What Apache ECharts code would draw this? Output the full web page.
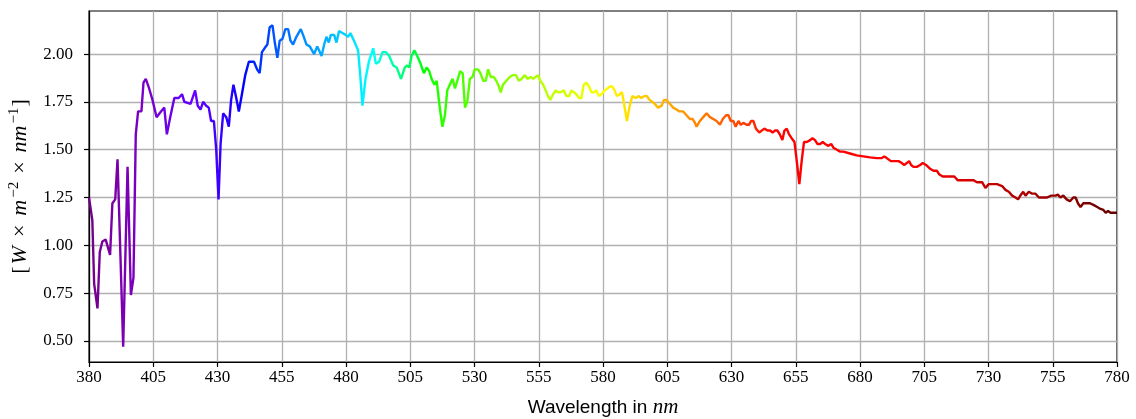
<!DOCTYPE html>
<html>
<head>
<meta charset="utf-8">
<script src="https://cdn.jsdelivr.net/npm/echarts@6/dist/echarts.min.js"></script>
<style>
html,body{margin:0;padding:0;background:#fff;}
#chart{width:1136px;height:419px;}
</style>
</head>
<body>
<div id="chart"></div>
<script>
// Wavelengths (nm) and spectral irradiance values
const wavelengths = [
380,381.3,382,383.3,384.2,385.2,386.5,388.2,389.1,390.2,391.1,393.3,395,396.3,397.3,398.2,399.1,400.4,401.2,402.1,
403.4,404.7,406.3,408,409.3,410.3,411.6,413.2,414.9,416.2,417.1,419.5,421.3,422.3,423.4,424.4,425.6,426.6,427.5,428.6,
429.5,430.4,431.2,432.2,433.4,434.4,435.3,436.2,437.3,438.3,439.5,440.8,442.2,444.2,445.4,446.4,447.3,448.3,449.4,450.3,
451.4,452.3,453.3,454.2,455.3,456.4,457.5,458.4,459.4,460.7,462.4,463.3,464.6,465.9,467.6,468.8,469.5,470.5,471.5,472.4,
473.3,474.1,475.4,476.3,477.3,478.6,479.9,480.8,481.7,483.1,484.7,485.6,486.4,487.6,488.9,490.6,491.6,492.9,494.2,495.5,
496.8,498.4,499.7,501.4,502.9,503.8,504.6,505.5,506.6,507.7,509,510.3,511.4,512.4,513.3,514.4,515.3,516.3,517.5,518.5,
519.4,520.4,521.5,522.4,523.3,524.4,525.4,526.3,527.2,528.2,529.2,530.1,531.4,532.3,533.4,534.4,535.3,536.3,537.5,538.5,
539.5,540.2,541.1,542.4,543.7,545,546.1,547.2,548.3,549.6,550.6,551.8,552.8,553.8,554.7,555.6,556.7,557.7,558.6,559.5,
560.6,561.6,562.5,563.4,564.7,565.8,566.8,567.7,568.7,569.6,570.7,571.6,572.5,573.5,574.6,575.5,576.5,577.4,578.4,579.4,
580.7,581.7,582.6,583.6,584.5,585.4,586.5,587.4,588.2,589.3,590.4,591.4,592.7,593.9,594.9,596,597.1,598.1,599.2,600.1,
601.4,602.8,603.7,604.7,606,607.3,608.6,609.7,611.2,612.5,613.8,614.9,615.8,616.4,617.7,619,620.3,621.6,622.9,624.2,
625.5,626.6,627.9,628.8,629.7,630.7,631.6,632.7,633.6,634.6,635.9,636.8,637.6,638.5,639.5,640.8,641.8,642.8,644,645,
646,646.9,647.9,648.8,649.8,650.6,651.5,652.4,653.4,654.5,655.4,656.4,657.3,658.2,659.3,660.6,661.5,662.5,663.4,664.5,
665.5,666.4,667.7,668.8,669.7,671,672.3,673.5,676.1,678.7,681.3,683.9,686.5,688.5,689.4,690.4,692,693.7,695,696.3,
697.2,698.2,699.1,699.9,700.8,702.1,703.4,704.4,705.7,707.3,708.6,709.9,710.9,712.2,713.8,715.4,716.7,718,719.7,721.6,
722.9,724.2,725.5,727.5,728.8,730.1,731.4,733.3,735.3,736.6,737.9,739.2,740.5,741.5,742.4,743.5,744.4,745.7,747,748.3,
749.6,750.9,752.8,754.4,756.1,757,758,759.1,760.4,761.7,763,763.9,764.8,765.8,766.9,768.2,769.5,771,772.3,773.6,
774.7,775.6,776.5,777.5,778.8,780
];
const irradiance = [
1.25,1.13,0.80,0.67,0.965,1.02,1.03,0.95,1.22,1.24,1.45,0.47,1.41,0.74,0.83,1.58,1.70,1.70,1.85,1.87,
1.82,1.76,1.67,1.70,1.72,1.58,1.67,1.77,1.77,1.79,1.75,1.74,1.81,1.73,1.71,1.75,1.73,1.72,1.65,1.65,
1.50,1.24,1.53,1.69,1.67,1.62,1.76,1.84,1.77,1.70,1.79,1.89,1.96,1.96,1.92,1.90,2.01,2.03,2.05,2.14,
2.15,2.06,1.98,2.07,2.08,2.13,2.13,2.07,2.05,2.09,2.13,2.10,2.05,2.04,2.00,2.04,2.02,1.99,2.05,2.09,
2.06,2.10,2.10,2.06,2.12,2.11,2.10,2.09,2.11,2.07,2.02,1.88,1.73,1.87,1.96,2.03,1.95,1.96,2.01,2.01,
1.99,1.94,1.93,1.87,1.93,1.94,1.93,1.99,2.02,1.99,1.95,1.90,1.93,1.91,1.87,1.84,1.86,1.74,1.62,1.68,
1.81,1.84,1.87,1.82,1.86,1.91,1.90,1.72,1.75,1.87,1.88,1.92,1.92,1.90,1.86,1.86,1.92,1.88,1.88,1.86,
1.83,1.80,1.84,1.86,1.88,1.89,1.89,1.86,1.87,1.89,1.87,1.88,1.87,1.88,1.89,1.86,1.84,1.81,1.78,1.76,
1.79,1.81,1.80,1.80,1.81,1.78,1.78,1.81,1.80,1.79,1.77,1.77,1.84,1.85,1.83,1.80,1.80,1.81,1.78,1.79,
1.81,1.82,1.83,1.83,1.81,1.78,1.79,1.80,1.74,1.65,1.73,1.78,1.77,1.78,1.77,1.78,1.78,1.76,1.75,1.74,
1.72,1.73,1.76,1.76,1.74,1.72,1.71,1.70,1.70,1.68,1.66,1.66,1.64,1.62,1.65,1.67,1.69,1.67,1.66,1.65,
1.63,1.66,1.68,1.68,1.65,1.65,1.62,1.65,1.63,1.64,1.63,1.63,1.65,1.65,1.61,1.59,1.60,1.61,1.60,1.60,
1.59,1.60,1.60,1.58,1.55,1.60,1.61,1.58,1.56,1.54,1.44,1.32,1.44,1.54,1.54,1.55,1.56,1.55,1.53,1.53,
1.54,1.53,1.52,1.53,1.51,1.50,1.49,1.49,1.48,1.47,1.465,1.46,1.456,1.456,1.465,1.456,1.44,1.44,1.44,1.43,
1.42,1.43,1.44,1.42,1.41,1.41,1.42,1.43,1.42,1.40,1.39,1.39,1.37,1.36,1.36,1.36,1.36,1.34,1.34,1.34,
1.34,1.34,1.33,1.33,1.30,1.32,1.32,1.32,1.31,1.29,1.28,1.26,1.25,1.24,1.26,1.28,1.26,1.28,1.27,1.27,
1.25,1.25,1.25,1.26,1.26,1.265,1.25,1.26,1.24,1.23,1.25,1.25,1.22,1.20,1.22,1.22,1.22,1.21,1.20,1.19,
1.185,1.17,1.18,1.17,1.17,1.17
];
const xTicks = [380,405,430,455,480,505,530,555,580,605,630,655,680,705,730,755,780];
const yTicks = [0.5,0.75,1.0,1.25,1.5,1.75,2.0];

// wavelength -> RGB (visible-spectrum approximation)
function waveColor(w){
  let r=0,g=0,b=0;
  if (w<440){ r=-(w-440)/60; b=1; }
  else if (w<490){ g=(w-440)/50; b=1; }
  else if (w<510){ g=1; b=-(w-510)/20; }
  else if (w<580){ r=(w-510)/70; g=1; }
  else if (w<645){ r=1; g=-(w-645)/65; }
  else { r=1; }
  let f=1;
  if (w<420) f=0.45+0.55*(w-380)/40;
  else if (w>700) f=0.3+0.7*(780-w)/80;
  const c=v=> v<=0?0:Math.round(255*Math.pow(v*f,0.8));
  let R=c(r), B=c(b);
  if (w<420) R=Math.round(R*0.85);
  return 'rgb('+R+','+c(g)+','+B+')';
}
const colorStops=[];
for(let w=380; w<=780; w+=2) colorStops.push(waveColor(w));

const data = wavelengths.map((w,i)=>[w, irradiance[i]]);

const chart = echarts.init(document.getElementById('chart'), null, {renderer:'canvas'});
const serif = 'Liberation Serif';
chart.setOption({
  animation:false,
  backgroundColor:'#fff',
  grid:{left:89,right:19,top:11,bottom:57,show:true,borderColor:'#000',borderWidth:1.2,backgroundColor:'transparent',outerBoundsMode:'none',containLabel:false},
  visualMap:{type:'continuous',show:false,dimension:0,seriesIndex:0,min:380,max:780,inRange:{color:colorStops}},
  xAxis:{
    type:'value',min:380,max:780,
    name:'{s|Wavelength in }{i|nm}',nameLocation:'middle',nameGap:35,
    nameTextStyle:{rich:{s:{fontFamily:'Liberation Sans',fontSize:19,color:'#000'},i:{fontFamily:serif,fontStyle:'italic',fontSize:21,color:'#000'}}},
    axisLine:{lineStyle:{color:'#000',width:1.2}},
    axisTick:{show:true,length:5,lineStyle:{color:'#000',width:1.2},customValues:xTicks},
    axisLabel:{customValues:xTicks,fontFamily:serif,fontSize:17,color:'#000',margin:7},
    splitLine:{show:true,lineStyle:{color:'#b0b0b0',width:1.3}}
  },
  yAxis:{
    type:'value',min:0.39,max:2.225,
    name:'{t|[}{i|W}{x|×}{i|m}{u|−2}{x|×}{i|nm}{u|−1}{t|]}',nameLocation:'middle',nameGap:56,nameRotate:90,
    nameTextStyle:{rich:{
      t:{fontFamily:serif,fontSize:22,color:'#000',lineHeight:26,padding:[0,1,0,1]},
      x:{fontFamily:serif,fontSize:22,color:'#000',lineHeight:26,padding:[0,8,0,8]},
      i:{fontFamily:serif,fontStyle:'italic',fontSize:22,color:'#000',lineHeight:26,padding:[0,1,0,1]},
      u:{fontFamily:serif,fontSize:15,color:'#000',verticalAlign:'top',lineHeight:26,padding:[0,0,0,1]}
    }},
    axisLine:{show:true,lineStyle:{color:'#000',width:1.2}},
    axisTick:{show:true,length:5,lineStyle:{color:'#000',width:1.2},customValues:yTicks},
    axisLabel:{customValues:yTicks,fontFamily:serif,fontSize:17,color:'#000',margin:16,formatter:v=>v.toFixed(2)},
    splitLine:{show:true,lineStyle:{color:'#b0b0b0',width:1.3}}
  },
  series:[{
    type:'line',data:data,showSymbol:false,symbol:'none',
    lineStyle:{width:2.4},z:3
  }]
});
</script>
</body>
</html>
